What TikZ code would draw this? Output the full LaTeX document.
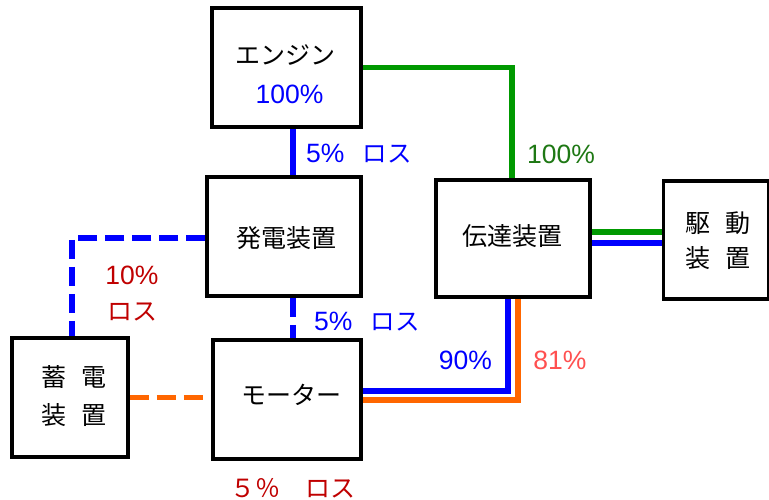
\documentclass[tikz,border=0pt]{standalone}
\usepackage{fontspec}
\setmainfont{Liberation Sans}
\newfontfamily\jp{Noto Sans CJK JP}
\usetikzlibrary{backgrounds}
\definecolor{cblue}{RGB}{0,0,255}
\definecolor{cgreen}{RGB}{0,153,0}
\definecolor{cgreenlab}{RGB}{30,120,20}
\definecolor{corange}{RGB}{255,102,0}
\definecolor{cred}{RGB}{192,0,0}
\definecolor{csalmon}{RGB}{255,80,80}
\begin{document}
\begin{tikzpicture}[x=1pt,y=-1pt,
  box/.style={draw=black, line width=3.5pt, fill=white, inner sep=0pt, rectangle},
  lat/.style={font=\fontsize{26.5}{30}\selectfont, inner sep=0pt},
  jpt/.style={font=\fontsize{25}{30}\selectfont\jp, inner sep=0pt},
  flow/.style={line width=5.5pt},
  dflow/.style={line width=5.5pt, dash pattern=on 19pt off 8pt},
]
\useasboundingbox (0,0) rectangle (769,499);

% boxes
\node[box, minimum width=149pt, minimum height=119pt] (eng) at (286.5,67.5) {};
\node[box, minimum width=154pt, minimum height=119pt] (gen) at (284,236.5) {};
\node[box, minimum width=154pt, minimum height=117pt] (trans) at (513,238.5) {};
\node[box, minimum width=105pt, minimum height=118pt] (drive) at (716,240) {};
\node[box, minimum width=116pt, minimum height=119pt] (batt) at (70,397.5) {};
\node[box, minimum width=148pt, minimum height=119pt] (motor) at (287,399.5) {};

\coordinate (cx) at (293,0);

\begin{pgfonlayer}{background}
  \fill[white] (0,0) rectangle (769,499);
  \draw[flow, cblue] (eng.south -| cx) -- (gen.north -| cx);
  \draw[flow, cgreen] (eng.east) -| ([xshift=-1pt]trans.north);
  \draw[dflow, cblue] ([yshift=-1.5pt]gen.west) -| ([xshift=2pt]batt.north);
  \draw[dflow, cblue] (gen.south -| cx) -- (motor.north -| cx);
  \draw[dflow, corange] (batt.east) -- (batt.east -| motor.west);
  \draw[flow, cblue] ([yshift=8.5pt]motor.east) -| ([xshift=-5pt]trans.south);
  \draw[flow, corange] ([yshift=-0.5pt]motor.east) -| ([xshift=5pt]trans.south);
  \draw[flow, cgreen] ([yshift=6.5pt]trans.east) -- ([yshift=6.5pt]trans.east -| drive.west);
  \draw[flow, cblue] ([yshift=-4.5pt]trans.east) -- ([yshift=-4.5pt]trans.east -| drive.west);
\end{pgfonlayer}

% texts in boxes
\node[jpt] (tEng) at (285,55) {エンジン};
\node[lat, text=cblue] (tEngP) at (289.5,94) {100\%};
\node[jpt] (tGen) at (286,238) {発電装置};
\node[jpt] (tTrans) at (512,236) {伝達装置};
\node[jpt] (tDrive1) at (718,223) {駆\hspace{15.5pt}動};
\node[jpt] (tDrive2) at (718,258) {装\hspace{15.5pt}置};
\node[jpt] (tBatt1) at (74,377) {蓄\hspace{15.5pt}電};
\node[jpt] (tBatt2) at (74,415) {装\hspace{15.5pt}置};
\node[jpt] (tMotor) at (291,395) {モーター};

% labels
\node[lat, text=cblue, anchor=west] (l1) at (306,154) {5\%\hspace{18pt}{\jp\fontsize{24.5}{30}\selectfont ロス}};
\node[lat, text=cgreenlab, anchor=west] (l2) at (527,154) {100\%};
\node[lat, text=cred] (l3) at (132,275) {10\%};
\node[jpt, text=cred] (l4) at (132,312) {ロス};
\node[lat, text=cblue, anchor=west] (l5) at (314,322) {5\%\hspace{18pt}{\jp\fontsize{24.5}{30}\selectfont ロス}};
\node[lat, text=cblue] (l6) at (465.5,360) {90\%};
\node[lat, text=csalmon] (l7) at (560,360) {81\%};
\node[jpt, text=cred] (l8) at (292.5,488) {５％　ロス};
\end{tikzpicture}
\end{document}
